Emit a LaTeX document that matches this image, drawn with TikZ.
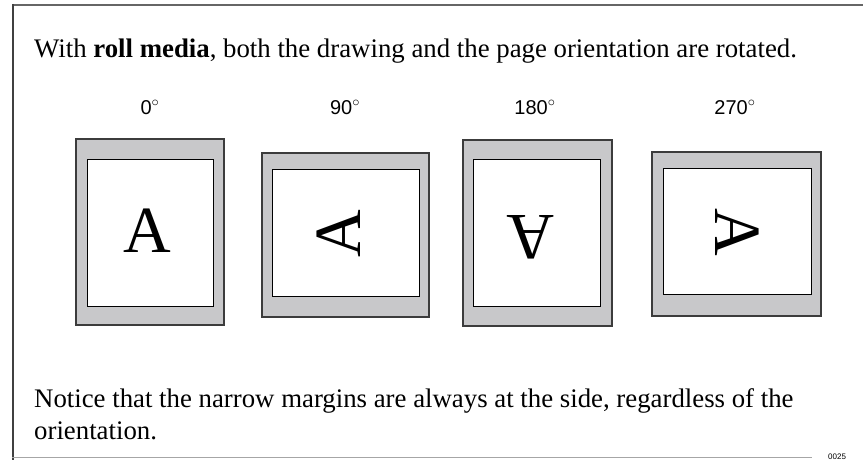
\documentclass[tikz,border=0pt]{standalone}
\usepackage{fontspec}
\setmainfont{Liberation Serif}
\newfontfamily\labelfont{Liberation Sans}
\definecolor{margingray}{RGB}{200,200,202}
\definecolor{framegray}{RGB}{102,102,102}
\definecolor{edgegray}{RGB}{60,60,60}
\begin{document}
\begin{tikzpicture}[x=1pt,y=-1pt,
  sheet/.style={fill=margingray,draw=edgegray,line width=1.2pt},
  printarea/.style={fill=white,draw=black,line width=1pt},
  letter/.style={inner sep=0pt,font=\fontsize{66}{66}\selectfont},
  anglelabel/.style={inner sep=0pt,anchor=base,font=\labelfont\fontsize{20}{20}\selectfont},
  bodytext/.style={inner sep=0pt,anchor=base west,font=\fontsize{26.8}{32}\selectfont}]
\useasboundingbox (0,0) rectangle (863,460);
% frame
\draw[framegray,line width=2pt] (12,5) -- (863,5);
\draw[black!75,line width=2pt] (13,4) -- (13,460);
\draw[black!35,line width=1pt] (12,457) -- (812,457);
\node[inner sep=0pt,anchor=base west,font=\labelfont\fontsize{8}{8}\selectfont] (code) at (828,459) {0025};
% texts
\node[bodytext] (title) at (34,58) {With \textbf{roll media}, both the drawing and the page orientation are rotated.};
\node[bodytext] (note1) at (34,407) {Notice that the narrow margins are always at the side, regardless of the};
\node[bodytext] (note2) at (34,439) {orientation.};
% labels
\node[anglelabel] (l0) at (150,114) {0$^\circ$};
\node[anglelabel] (l90) at (345,114) {90$^\circ$};
\node[anglelabel] (l180) at (535,114) {180$^\circ$};
\node[anglelabel] (l270) at (735,114) {270$^\circ$};
% sheets
\draw[sheet] (76,139) rectangle (224,325);
\draw[printarea] (87,159) rectangle (213,306);
\node[letter] (a0) at (147,231) {A};
\draw[sheet] (262,153) rectangle (429,317);
\draw[printarea] (272,169) rectangle (419,296);
\node[letter,rotate=90] (a90) at (339,234) {A};
\draw[sheet] (463,140) rectangle (612,326);
\draw[printarea] (473,159) rectangle (600,306);
\node[letter,rotate=180] (a180) at (531,237) {A};
\draw[sheet] (652,152) rectangle (821,316);
\draw[printarea] (663,168) rectangle (811,294);
\node[letter,rotate=270] (a270) at (737,232) {A};
\end{tikzpicture}
\end{document}
